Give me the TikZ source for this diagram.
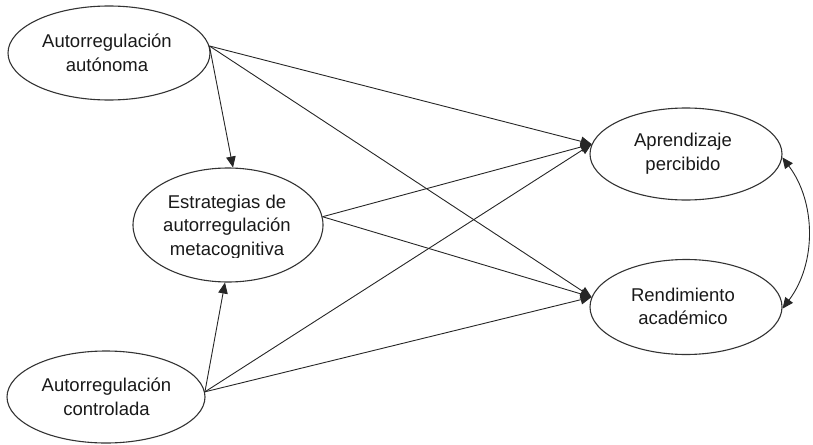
\documentclass[tikz,border=0pt]{standalone}
\usepackage{fontspec}
\setmainfont{Liberation Sans}
\usetikzlibrary{arrows.meta,shapes.geometric}
\begin{document}
\begin{tikzpicture}[x=1pt,y=-1pt,
  oval/.style={ellipse,draw=black!80,line width=1.1pt,inner sep=0pt},
  txt/.style={anchor=base,inner sep=0pt,text=black!90,font=\fontsize{18.5}{23.4}\selectfont},
  tip/.style={Triangle[length=11pt,width=9.5pt]},
  conn/.style={draw=black!85,line width=0.9pt,-{Triangle[length=11pt,width=9.5pt]}},
  dconn/.style={draw=black!85,line width=0.9pt,{Triangle[length=11pt,width=9.5pt]}-{Triangle[length=11pt,width=9.5pt]}}]
\useasboundingbox (0,0) rectangle (813,444);
% ellipses
\node[oval,minimum width=202pt,minimum height=94pt] (aut) at (109,53) {};
\node[oval,minimum width=190pt,minimum height=114pt] (est) at (228,225) {};
\node[oval,minimum width=198pt,minimum height=92pt] (ctl) at (106,397) {};
\node[oval,minimum width=192pt,minimum height=92pt] (apr) at (686,154) {};
\node[oval,minimum width=192pt,minimum height=95pt] (ren) at (686,307) {};
% texts
\node[txt] (aut1) at (107,47.7) {Autorregulación};
\node[txt] (aut2) at (107,71.1) {autónoma};
\node[txt] (est1) at (227,208.3) {Estrategias de};
\node[txt] (est2) at (227,231.7) {autorregulación};
\begin{scope}
  \clip (140,235) rectangle (320,257);
  \node[txt] (est3) at (227,255.1) {metacognitiva};
\end{scope}
\node[txt] (ctl1) at (106.5,391.7) {Autorregulación};
\node[txt] (ctl2) at (106.5,415.1) {controlada};
\node[txt] (apr1) at (683,146.7) {Aprendizaje};
\node[txt] (apr2) at (683,170.1) {percibido};
\node[txt] (ren1) at (683,301.3) {Rendimiento};
\node[txt] (ren2) at (683,324.7) {académico};
% connectors
\draw[conn] (aut.4) -- (apr.174);
\draw[conn] (aut.4) -- (ren.174);
\draw[conn] (aut.4) -- (est.85);
\draw[conn] (est.5) -- (apr.174);
\draw[conn] (est.5) -- (ren.174);
\draw[conn] (ctl.3) -- (est.267);
\draw[conn] (ctl.3) -- (apr.174);
\draw[conn] (ctl.3) -- (ren.174);
\draw[dconn] (apr.-2) .. controls +(34,45) and +(34,-45) .. (ren.-1);
\end{tikzpicture}
\end{document}
